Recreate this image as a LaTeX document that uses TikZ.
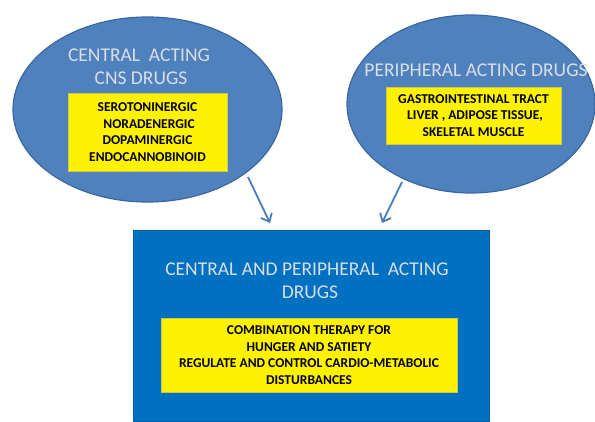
\documentclass[tikz,border=0pt]{standalone}
\usepackage{fontspec}
\setmainfont{Carlito}
\usetikzlibrary{shapes.geometric,arrows.meta}
\definecolor{ellfill}{HTML}{4F81BD}
\definecolor{elldraw}{HTML}{3A67A0}
\definecolor{boxfill}{HTML}{0070C0}
\definecolor{titlecol}{HTML}{D8DEE6}
\definecolor{arrowcol}{HTML}{4A7EBB}
\definecolor{yelbord}{HTML}{C9C94A}
\tikzset{
  oval/.style={ellipse, fill=ellfill, draw=elldraw, line width=1.2pt, inner sep=0pt},
  title/.style={text=titlecol, font=\fontsize{19.5}{23}\selectfont, align=center, inner sep=0pt},
  yelbox/.style={fill=yellow, draw=yelbord, line width=0.6pt, inner sep=0pt, align=center,
    font=\fontsize{13.5}{16.5}\selectfont\bfseries},
  conn/.style={draw=arrowcol, line width=1.8pt, -{Straight Barb[length=7pt,width=12pt,line width=1.8pt]}}
}
\begin{document}
\begin{tikzpicture}[x=1pt,y=-1pt]
\useasboundingbox (0,0) rectangle (595,422);
% left ellipse
\node[oval, minimum width=269, minimum height=185] (cns) at (147.5,109.5) {};
\node[title, anchor=base] (cnsT1) at (139,62) {CENTRAL\ \ ACTING};
\node[title, anchor=base] (cnsT2) at (141,85) {CNS DRUGS};
\node[yelbox, minimum width=159, minimum height=78] (cnsB) at (147.5,132)
  {SEROTONINERGIC\\ \ NORADENERGIC\\ DOPAMINERGIC\\ ENDOCANNOBINOID};
% right ellipse
\node[oval, minimum width=248, minimum height=178] (per) at (471,104) {};
\node[title, anchor=base] (perT) at (476,77) {PERIPHERAL ACTING DRUGS};
\node[yelbox, minimum width=175, minimum height=57] (perB) at (473.5,115.5)
  {GASTROINTESTINAL TRACT\\ \ LIVER , ADIPOSE TISSUE,\\ SKELETAL MUSCLE};
% bottom rectangle
\node[fill=boxfill, draw=boxfill!85!black, line width=0.6pt, minimum width=356, minimum height=191, inner sep=0pt] (both) at (311,325.5) {};
\node[title, anchor=base] (bothT1) at (307,276) {CENTRAL AND PERIPHERAL\ \ ACTING};
\node[title, anchor=base] (bothT2) at (310,299) {DRUGS};
\node[yelbox, minimum width=296, minimum height=74] (bothB) at (309,355)
  {COMBINATION THERAPY FOR\\ HUNGER AND SATIETY\\ REGULATE AND CONTROL CARDIO-METABOLIC\\ DISTURBANCES};
% arrows
\coordinate (a1s) at (248,177);
\coordinate (a1e) at (270,223);
\coordinate (a2s) at (402,182);
\coordinate (a2e) at (382,223);
\draw[conn] (a1s) -- (a1e);
\draw[conn] (a2s) -- (a2e);
\end{tikzpicture}
\end{document}
